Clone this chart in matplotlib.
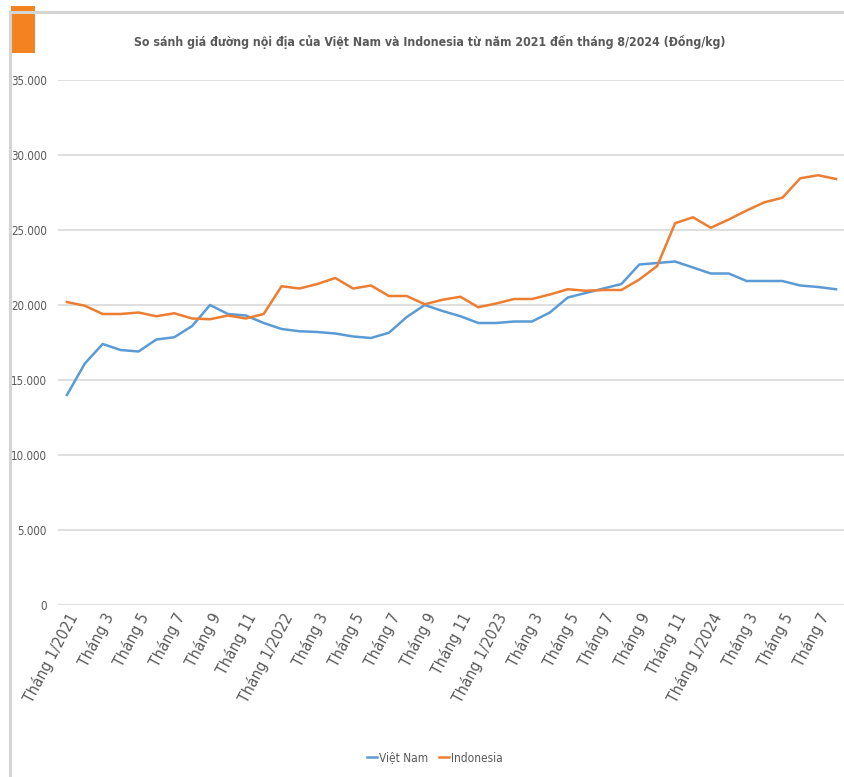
import matplotlib
matplotlib.use("Agg")
import matplotlib.pyplot as plt
from matplotlib import font_manager
from matplotlib.patches import Rectangle
from matplotlib.lines import Line2D
from matplotlib.ticker import FuncFormatter

# Monthly domestic sugar prices, Jan 2021 .. Aug 2024 (VND/kg)
months = [f"{m}/{y}" for y in (2021, 2022, 2023, 2024) for m in range(1, 13)][:44]

viet_nam = [
    14000, 16100, 17400, 17000, 16900, 17700, 17850, 18600, 20000, 19400, 19300, 18800,
    18400, 18250, 18200, 18100, 17900, 17800, 18150, 19200, 20000, 19600, 19250, 18800,
    18800, 18900, 18900, 19500, 20500, 20800, 21100, 21400, 22700, 22800, 22900, 22500,
    22100, 22100, 21600, 21600, 21600, 21300, 21200, 21050,
]
indonesia = [
    20200, 19950, 19400, 19400, 19500, 19250, 19450, 19100, 19050, 19300, 19100, 19400,
    21250, 21100, 21400, 21800, 21100, 21300, 20600, 20600, 20050, 20350, 20550, 19850,
    20100, 20400, 20400, 20700, 21050, 20950, 21000, 21000, 21700, 22600, 25450, 25850,
    25150, 25700, 26300, 26850, 27150, 28450, 28650, 28400,
]

tick_labels = []
for i, m in enumerate(months):
    if i % 2:
        continue
    month, year = m.split("/")
    tick_labels.append(f"Tháng {month}/{year}" if month == "1" else f"Tháng {month}")

TITLE = "So sánh giá đường nội địa của Việt Nam và Indonesia từ năm 2021 đến tháng 8/2024 (Đồng/kg)"

BLUE = "#5B9BD5"
ORANGE = "#ED7D31"
TEXT = "#595959"
GRID = "#D9D9D9"


def pick_narrow_font():
    """Return (family, stretch, is_narrow) for the narrowest sans face found."""
    for fam, stretch in [("Liberation Sans Narrow", "normal"),
                         ("Noto Sans", "condensed"),
                         ("DejaVu Sans", "condensed"),
                         ("Open Sans", "condensed"),
                         ("Roboto", "condensed")]:
        try:
            path = font_manager.findfont(
                font_manager.FontProperties(family=fam, stretch=stretch),
                fallback_to_default=False)
        except ValueError:
            continue
        name = path.lower()
        if "narrow" in name or "condensed" in name:
            return fam, stretch, True
    return "Liberation Sans", "normal", False


family, stretch, narrow = pick_narrow_font()
plt.rcParams["font.family"] = [family, "DejaVu Sans"]
plt.rcParams["font.stretch"] = stretch
scale = 1.0 if narrow else 0.85

fig = plt.figure(figsize=(8.44, 7.77), dpi=100)
W, H = 844, 777

# outer frame: top and left border plus orange tag
fig.add_artist(Line2D([10 / W, 1], [1 - 12 / H, 1 - 12 / H], color="#D4D4D4", lw=2.2))
fig.add_artist(Line2D([10 / W, 10 / W], [0, 1 - 12 / H], color="#D4D4D4", lw=2.2))
fig.add_artist(Rectangle((11 / W, 1 - 53 / H), 24 / W, 47 / H, color="#F58220", lw=0))

ax = fig.add_axes([58 / W, 1 - 605 / H, 787 / W, 525 / H])
x = list(range(len(months)))
ax.plot(x, viet_nam, color=BLUE, lw=1.8, label="Việt Nam", solid_joinstyle="round")
ax.plot(x, indonesia, color=ORANGE, lw=1.8, label="Indonesia", solid_joinstyle="round")

ax.set_xlim(-0.5, len(months) - 0.5)
ax.set_ylim(0, 35000)
ax.set_yticks(range(0, 35001, 5000))
ax.yaxis.set_major_formatter(FuncFormatter(lambda v, _: f"{int(v):,}".replace(",", ".")))
ax.grid(axis="y", color=GRID, lw=1.2)
ax.set_axisbelow(True)
for s in ax.spines.values():
    s.set_visible(False)
ax.tick_params(axis="y", length=0, pad=8, labelsize=8.3 * scale, labelcolor=TEXT)
ax.set_xticks(x[::2])
ax.set_xticklabels(tick_labels, rotation=62, ha="right", rotation_mode="anchor",
                   fontsize=11.3 * scale, color=TEXT)
ax.tick_params(axis="x", length=0, pad=4)

fig.text(430 / W, 1 - 42 / H, TITLE, ha="center", va="center",
         fontsize=(8.8 if narrow else 8.4), fontweight="bold", color=TEXT)

fig.legend(handles=[Line2D([], [], color=BLUE, lw=1.8), Line2D([], [], color=ORANGE, lw=1.8)],
           labels=["Việt Nam", "Indonesia"], loc="center", bbox_to_anchor=(435 / W, 1 - 758 / H),
           ncol=2, frameon=False, fontsize=8.6 * scale, handlelength=0.8, handletextpad=0.2,
           columnspacing=0.9, labelcolor=TEXT)

fig.savefig("out.png", dpi=100, facecolor="white")
